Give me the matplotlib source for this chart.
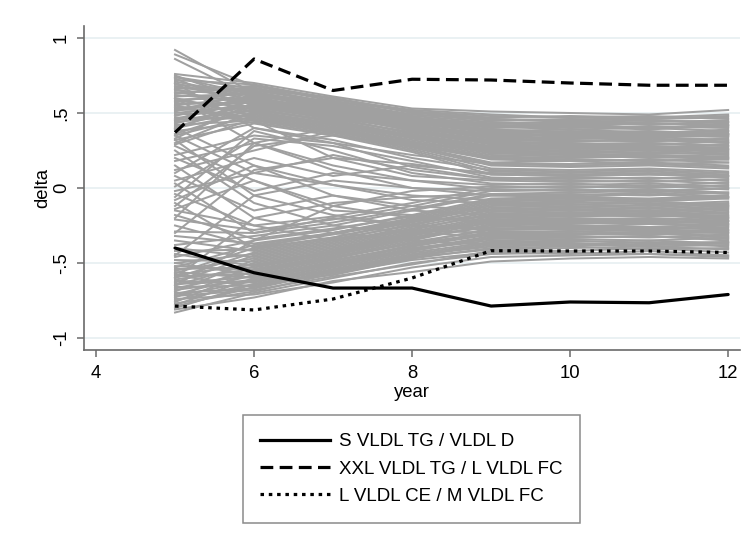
import matplotlib
matplotlib.use("Agg")
import matplotlib.pyplot as plt
from matplotlib.lines import Line2D

plt.rcParams["font.family"] = ["Liberation Sans", "DejaVu Sans"]

years = [5, 6, 7, 8, 9, 10, 11, 12]

# Individual ratio trajectories (background)
upper_paths = [
    [.92, .63, .56, .49, .46, .45, .46, .48],
    [.89, .68, .58, .51, .48, .47, .46, .47],
    [.86, .60, .52, .44, .41, .42, .40, .41],
    [.76, .70, .61, .53, .51, .50, .49, .52],
    [.75, .57, .49, .41, .36, .35, .36, .35],
    [.74, .66, .60, .50, .47, .48, .47, .49],
    [.73, .52, .45, .35, .27, .26, .27, .25],
    [.72, .69, .59, .52, .49, .47, .48, .46],
    [.71, .61, .55, .47, .43, .44, .42, .44],
    [.70, .55, .47, .39, .32, .31, .33, .30],
    [.69, .65, .57, .48, .44, .43, .44, .45],
    [.68, .59, .50, .43, .38, .39, .37, .38],
    [.67, .64, .54, .45, .42, .40, .41, .40],
    [.66, .50, .42, .31, .22, .21, .22, .20],
    [.65, .62, .58, .49, .45, .46, .45, .43],
    [.64, .56, .48, .40, .34, .33, .34, .32],
    [.63, .67, .56, .46, .40, .41, .39, .42],
    [.62, .58, .53, .44, .39, .37, .38, .36],
    [.61, .63, .51, .42, .35, .36, .35, .37],
    [.60, .48, .40, .30, .20, .19, .18, .19],
    [.59, .60, .52, .43, .37, .38, .36, .39],
    [.58, .54, .46, .37, .30, .29, .30, .28],
    [.57, .66, .57, .47, .41, .39, .40, .38],
    [.56, .57, .49, .38, .31, .30, .29, .31],
    [.55, .61, .50, .41, .33, .32, .31, .33],
    [.54, .47, .39, .28, .17, .18, .16, .17],
    [.53, .59, .51, .42, .36, .34, .35, .34],
    [.52, .53, .44, .34, .26, .25, .26, .24],
    [.51, .64, .55, .45, .39, .37, .37, .36],
    [.50, .55, .47, .36, .28, .28, .27, .29],
    [.49, .51, .43, .33, .24, .23, .24, .22],
    [.48, .62, .53, .44, .38, .36, .36, .35],
    [.47, .46, .38, .27, .15, .14, .15, .13],
    [.46, .58, .50, .40, .33, .31, .32, .30],
    [.45, .52, .45, .35, .27, .27, .25, .26],
    [.44, .49, .41, .30, .21, .20, .21, .19],
    [.43, .56, .48, .39, .31, .29, .30, .28],
    [.42, .45, .37, .26, .13, .12, .13, .11],
    [.41, .54, .46, .37, .29, .28, .28, .27],
    [.40, .50, .42, .32, .23, .22, .22, .21],
    [.39, .60, .52, .41, .34, .33, .33, .31],
    [.38, .44, .36, .25, .11, .10, .11, .09],
    [.36, .53, .44, .35, .25, .24, .23, .23],
    [.35, .48, .40, .29, .19, .18, .19, .17],
    [.33, .57, .49, .38, .30, .27, .28, .26],
    [.32, .43, .35, .24, .09, .08, .09, .08],
    [.30, .51, .43, .34, .24, .22, .20, .21],
    [.29, .46, .38, .28, .16, .16, .17, .15],
    [.74, .62, .54, .46, .42, .41, .43, .42],
    [.66, .68, .60, .51, .46, .44, .45, .44],
    [.58, .64, .55, .46, .43, .42, .43, .41],
    [.52, .58, .49, .40, .35, .33, .34, .35],
    [.45, .63, .54, .45, .37, .35, .34, .36],
]

lower_paths = [
    [-.83, -.70, -.60, -.50, -.44, -.43, -.44, -.46],
    [-.81, -.73, -.62, -.56, -.49, -.47, -.46, -.47],
    [-.79, -.66, -.55, -.45, -.38, -.37, -.38, -.36],
    [-.78, -.60, -.50, -.41, -.35, -.34, -.35, -.33],
    [-.77, -.69, -.57, -.48, -.43, -.44, -.42, -.45],
    [-.76, -.55, -.46, -.37, -.30, -.29, -.30, -.28],
    [-.75, -.64, -.53, -.43, -.36, -.36, -.35, -.37],
    [-.74, -.71, -.63, -.53, -.46, -.45, -.44, -.45],
    [-.73, -.52, -.44, -.33, -.26, -.25, -.26, -.24],
    [-.72, -.62, -.52, -.42, -.33, -.32, -.33, -.31],
    [-.71, -.58, -.48, -.39, -.31, -.30, -.31, -.29],
    [-.70, -.67, -.56, -.46, -.41, -.40, -.39, -.41],
    [-.69, -.48, -.40, -.30, -.22, -.21, -.22, -.20],
    [-.68, -.61, -.51, -.40, -.34, -.33, -.32, -.34],
    [-.67, -.56, -.47, -.36, -.28, -.27, -.28, -.26],
    [-.66, -.65, -.54, -.44, -.37, -.38, -.36, -.39],
    [-.65, -.50, -.42, -.31, -.23, -.23, -.22, -.24],
    [-.64, -.59, -.49, -.38, -.30, -.31, -.29, -.30],
    [-.63, -.45, -.37, -.27, -.18, -.17, -.18, -.16],
    [-.62, -.63, -.52, -.41, -.32, -.31, -.30, -.32],
    [-.61, -.54, -.45, -.34, -.25, -.26, -.24, -.25],
    [-.60, -.43, -.35, -.24, -.15, -.14, -.15, -.13],
    [-.59, -.57, -.47, -.37, -.27, -.28, -.27, -.27],
    [-.58, -.51, -.43, -.32, -.21, -.20, -.21, -.19],
    [-.57, -.40, -.33, -.22, -.12, -.11, -.12, -.10],
    [-.56, -.60, -.50, -.39, -.29, -.29, -.28, -.29],
    [-.55, -.47, -.39, -.29, -.19, -.18, -.19, -.18],
    [-.54, -.53, -.44, -.33, -.23, -.22, -.23, -.21],
    [-.53, -.38, -.30, -.20, -.09, -.08, -.09, -.07],
    [-.52, -.55, -.46, -.35, -.24, -.24, -.23, -.23],
    [-.50, -.44, -.36, -.26, -.16, -.15, -.16, -.14],
    [-.48, -.49, -.41, -.30, -.20, -.19, -.18, -.20],
    [-.46, -.35, -.28, -.18, -.07, -.06, -.07, -.05],
    [-.44, -.52, -.42, -.31, -.21, -.21, -.20, -.22],
    [-.42, -.41, -.33, -.23, -.13, -.12, -.13, -.11],
    [-.40, -.46, -.38, -.28, -.17, -.16, -.17, -.15],
    [-.38, -.32, -.25, -.15, -.05, -.04, -.05, -.03],
    [-.35, -.42, -.34, -.25, -.14, -.13, -.14, -.12],
    [-.32, -.37, -.30, -.21, -.10, -.10, -.09, -.11],
    [-.29, -.30, -.23, -.14, -.04, -.03, -.02, -.04],
    [-.25, -.39, -.31, -.22, -.11, -.11, -.10, -.12],
    [-.21, -.28, -.21, -.12, -.02, -.01, -.02, .00],
    [-.18, -.34, -.27, -.19, -.08, -.07, -.08, -.06],
    [-.15, -.25, -.19, -.10, .00, .01, .00, .02],
    [-.80, -.64, -.58, -.47, -.40, -.39, -.41, -.40],
    [-.72, -.68, -.59, -.51, -.42, -.42, -.40, -.43],
    [-.64, -.62, -.55, -.45, -.39, -.38, -.38, -.37],
    [-.58, -.66, -.56, -.47, -.36, -.35, -.37, -.36],
    [-.50, -.58, -.51, -.42, -.33, -.33, -.32, -.35],
]

crossing_paths = [
    [.28, .05, -.12, -.20, -.22, -.21, -.23, -.22],
    [.25, -.10, -.25, -.30, -.32, -.31, -.30, -.33],
    [.22, .35, .30, .22, .16, .15, .16, .14],
    [.20, -.02, .10, .05, .02, .03, .01, .04],
    [.18, .30, .12, .00, -.05, -.06, -.04, -.07],
    [.15, -.20, -.30, -.35, -.38, -.37, -.39, -.38],
    [.12, .25, .38, .30, .25, .24, .25, .23],
    [.10, .40, .32, .20, .12, .11, .12, .10],
    [.08, -.15, -.05, -.12, -.15, -.14, -.16, -.13],
    [.05, .20, .08, .15, .10, .09, .10, .08],
    [.03, -.30, -.20, -.25, -.27, -.26, -.27, -.25],
    [.01, .33, .28, .18, .07, .06, .07, .05],
    [-.02, .10, .22, .12, .06, .05, .04, .06],
    [-.04, -.25, -.35, -.28, -.30, -.31, -.29, -.30],
    [-.06, .38, .25, .10, .03, .02, .03, .01],
    [-.08, .15, .02, -.08, -.10, -.09, -.11, -.09],
    [-.10, -.40, -.30, -.22, -.19, -.18, -.17, -.19],
    [-.12, .28, .35, .28, .20, .19, .18, .20],
    [-.14, .05, -.15, -.18, -.24, -.23, -.24, -.22],
    [.35, .10, .02, -.05, -.08, -.07, -.08, -.06],
    [.40, .15, -.05, -.15, -.18, -.17, -.18, -.17],
    [.32, -.05, -.18, -.25, -.28, -.27, -.26, -.28],
    [-.20, .30, .40, .35, .27, .26, .27, .25],
    [-.30, .12, .20, .16, .09, .08, .09, .07],
    [-.45, -.05, .05, .00, -.02, -.01, -.03, .00],
    [-.60, -.20, -.10, -.06, -.04, -.05, -.03, -.06],
    [.60, .30, .15, .05, -.01, -.02, -.01, -.03],
    [.55, .45, .20, .08, .05, .04, .05, .03],
    [-.65, -.35, -.12, -.02, .01, .00, .02, -.01],
    [.70, .40, .30, .14, .06, .07, .06, .08],
]

# Highlighted ratios
s_vldl_tg = [-.40, -.565, -.667, -.667, -.787, -.76, -.765, -.71]
xxl_vldl_tg = [.37, .86, .65, .725, .72, .70, .685, .685]
l_vldl_ce = [-.787, -.813, -.74, -.60, -.418, -.42, -.42, -.43]

labels = ["S VLDL TG / VLDL D", "XXL VLDL TG / L VLDL FC", "L VLDL CE / M VLDL FC"]
yticks = [-1, -.5, 0, .5, 1]
ytick_labels = ["-1", "-.5", "0", ".5", "1"]
xticks = [4, 6, 8, 10, 12]

fig = plt.figure(figsize=(7.48, 5.49), dpi=100)
ax = fig.add_axes([84 / 748, 1 - 350 / 549, (740 - 84) / 748, (350 - 26) / 549])

gray = "#a0a0a0"
for path in upper_paths + lower_paths + crossing_paths:
    ax.plot(years, path, color=gray, lw=1.45, zorder=2)

black_w = 2.3
ax.plot(years, s_vldl_tg, color="black", lw=black_w, zorder=4,
        solid_joinstyle="round", solid_capstyle="round")
ax.plot(years, xxl_vldl_tg, color="black", lw=black_w, zorder=4,
        dashes=(4, 2), dash_capstyle="butt")
ax.plot(years, l_vldl_ce, color="black", lw=black_w, zorder=4,
        dashes=(1.1, 1.5), dash_capstyle="butt")

ax.set_xlim(3.848, 12.15)
ax.set_ylim(-1.08, 1.08)

ax.set_yticks(yticks)
ax.set_yticklabels(ytick_labels, rotation=90, va="center")
ax.set_xticks(xticks)

for y in yticks:
    ax.axhline(y, color="#e6eff1", lw=1.2, zorder=1)

for side in ("top", "right"):
    ax.spines[side].set_visible(False)
spine_col = "#6a6a6a"
for side in ("left", "bottom"):
    ax.spines[side].set_color(spine_col)
    ax.spines[side].set_linewidth(1.2)

ax.tick_params(axis="both", colors=spine_col, labelcolor="black",
               labelsize=13.3, length=5, width=1.1, direction="out")
ax.tick_params(axis="x", pad=6)
ax.tick_params(axis="y", pad=5)

ax.set_xlabel("year", fontsize=13.3, labelpad=1)
ax.set_ylabel("delta", fontsize=13.3, labelpad=1)

handles = [
    Line2D([], [], color="black", lw=black_w),
    Line2D([], [], color="black", lw=black_w, dashes=(4, 2), dash_capstyle="butt"),
    Line2D([], [], color="black", lw=black_w, dashes=(1.1, 1.5), dash_capstyle="butt"),
]
leg = fig.legend(handles, labels, loc="center",
                 bbox_to_anchor=(411.5 / 748, 1 - 469 / 549),
                 fontsize=13.5, frameon=True, fancybox=False,
                 handlelength=3.7, handletextpad=0.5, labelspacing=0.55,
                 borderpad=0.95)
leg.get_frame().set_edgecolor("#6e6e6e")
leg.get_frame().set_linewidth(1.1)

fig.savefig("out.png", dpi=100)
